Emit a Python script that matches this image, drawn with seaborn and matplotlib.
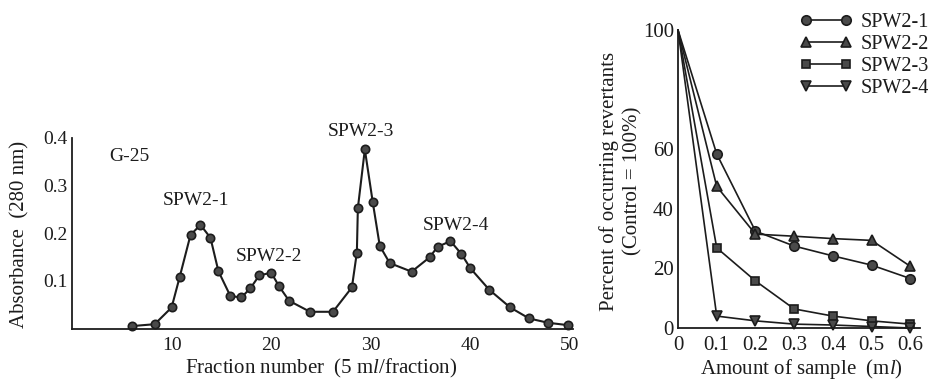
import numpy as np
import pandas as pd
import matplotlib
matplotlib.use("Agg")
import matplotlib.pyplot as plt
import seaborn as sns
from matplotlib.lines import Line2D
from matplotlib.legend_handler import HandlerLine2D

# ---------------- data ----------------
fractions = [6, 8.3, 10, 10.8, 11.9, 12.9, 13.9, 14.7, 15.9, 17, 17.9, 18.8, 20, 20.8,
             21.8, 23.9, 26.2, 28.1, 28.6, 28.7, 29.4, 30.2, 30.9, 31.9, 34.1, 35.9,
             36.7, 38, 39.1, 40, 41.9, 44, 45.9, 47.8, 49.8]
absorbance = [0.005, 0.009, 0.044, 0.107, 0.196, 0.217, 0.190, 0.120, 0.068, 0.065,
              0.084, 0.111, 0.117, 0.088, 0.058, 0.035, 0.035, 0.086, 0.159, 0.252,
              0.375, 0.264, 0.173, 0.137, 0.119, 0.149, 0.171, 0.183, 0.156, 0.126,
              0.081, 0.044, 0.021, 0.012, 0.007]
left_xticks = [10, 20, 30, 40, 50]
left_yticks = [0.1, 0.2, 0.3, 0.4]

amount = [0, 0.1, 0.2, 0.3, 0.4, 0.5, 0.6]
spw2_1 = [100, 58.4, 32.5, 27.5, 24.2, 21.1, 16.6]
spw2_2 = [100, 47.5, 31.5, 30.8, 30.0, 29.4, 20.7]
spw2_3 = [100, 26.9, 15.8, 6.4, 4.0, 2.4, 1.3]
spw2_4 = [100, 4.0, 2.4, 1.3, 1.0, 0.5, 0.0]
series_names = ["SPW2-1", "SPW2-2", "SPW2-3", "SPW2-4"]
right_xticks = [0, 0.1, 0.2, 0.3, 0.4, 0.5, 0.6]
right_xticklabels = ["0", "0.1", "0.2", "0.3", "0.4", "0.5", "0.6"]
right_yticks = [0, 20, 40, 60, 80, 100]
right_yticklabels = ["0", "20", "40", "60", "", "100"]

peak_labels = ["G-25", "SPW2-1", "SPW2-2", "SPW2-3", "SPW2-4"]
peak_label_x = [5.8, 12.45, 19.8, 29.0, 38.5]
peak_label_y = [0.360, 0.269, 0.151, 0.413, 0.216]

# ---------------- style ----------------
sns.set_style("white")
plt.rcParams["font.family"] = ["Liberation Serif", "DejaVu Serif"]
plt.rcParams["mathtext.fontset"] = "custom"
plt.rcParams["mathtext.rm"] = "Liberation Serif"
plt.rcParams["mathtext.it"] = "Liberation Serif:italic"
INK = "#1c1c1c"
FACE = "#4a4a4a"

W, H = 933, 380
fig = plt.figure(figsize=(W / 100, H / 100), dpi=100)
fig.patch.set_facecolor("white")

# left axes
axL = fig.add_axes([72 / W, 1 - 328.5 / H, 501 / W, 191 / H])
dfL = pd.DataFrame({"fraction": fractions, "absorbance": absorbance})
sns.lineplot(data=dfL, x="fraction", y="absorbance", ax=axL, color=INK, lw=1.5,
             marker="o", markersize=6, markerfacecolor=FACE, markeredgecolor=INK,
             markeredgewidth=1.2, estimator=None, sort=False, clip_on=False)
axL.set_xlim(0, 50.3)
axL.set_ylim(0, 0.4)
axL.set_xticks(left_xticks)
axL.set_xticklabels([str(t) for t in left_xticks])
axL.set_yticks(left_yticks)
axL.set_yticklabels([f"{t:.1f}" for t in left_yticks])
for t, x, y in zip(peak_labels, peak_label_x, peak_label_y):
    axL.text(x, y, t, ha="center", va="center", fontsize=14, color=INK, clip_on=False)
axL.set_xlabel(r"Fraction number  (5 m$\mathit{l}$/fraction)", fontsize=15, color=INK)
axL.set_ylabel("Absorbance  (280 nm)", fontsize=15, color=INK)
axL.xaxis.label.set_va("center")
axL.yaxis.label.set_va("center")
axL.xaxis.set_label_coords(0.497, -0.207)
axL.yaxis.set_label_coords(-0.104, 0.495)

# right axes
axR = fig.add_axes([678 / W, 1 - 328 / H, 242 / W, 298 / H])
markers = ["o", "^", "s", "v"]
msizes = [6.8, 6.8, 6.3, 6.8]
all_series = [spw2_1, spw2_2, spw2_3, spw2_4]
for name, vals, m, ms in zip(series_names, all_series, markers, msizes):
    sns.lineplot(x=amount, y=vals, ax=axR, color=INK, lw=1.2, marker=m, markersize=ms,
                 markerfacecolor=FACE, markeredgecolor=INK, markeredgewidth=1.2,
                 markevery=slice(1, None), estimator=None, sort=False, clip_on=False)
axR.set_xlim(0, 0.625)
axR.set_ylim(0, 100)
axR.set_xticks(right_xticks)
axR.set_xticklabels(right_xticklabels)
axR.set_yticks(right_yticks)
axR.set_yticklabels(right_yticklabels)
axR.set_yticks([10, 30, 50, 70, 90], minor=True)
axR.set_xlabel(r"Amount of sample  (m$\mathit{l}$)", fontsize=15, color=INK)
axR.set_ylabel("Percent of occurring revertants\n(Control = 100%)", fontsize=15,
               color=INK, linespacing=1.3)
axR.xaxis.label.set_va("center")
axR.yaxis.label.set_va("center")
axR.xaxis.set_label_coords(0.51, -0.138)
axR.yaxis.set_label_coords(-0.238, 0.493)

for ax in (axL, axR):
    sns.despine(ax=ax)
    for s in ("left", "bottom"):
        ax.spines[s].set_color(INK)
        ax.spines[s].set_linewidth(1.3)
    ax.set_facecolor("white")
    ax.tick_params(axis="both", which="major", direction="in", length=5, width=1.1,
                   color=INK, labelcolor=INK, labelsize=14)
    ax.tick_params(axis="both", which="minor", direction="in", length=3, width=1.0,
                   color=INK)
    ax.tick_params(axis="y", pad=3)
    ax.tick_params(axis="x", pad=6)
axR.tick_params(axis="both", which="major", labelsize=15)

# legend
handles = [Line2D([0], [0], color=INK, lw=1.2, marker=m, markersize=ms,
                  markerfacecolor=FACE, markeredgecolor=INK, markeredgewidth=1.2)
           for m, ms in zip(markers, msizes)]
fig.legend(handles, series_names, loc="upper left", bbox_to_anchor=(806 / W, 1 - 13 / H),
           frameon=False, borderpad=0, borderaxespad=0, numpoints=2, fontsize=14.5,
           handlelength=2.0, handletextpad=0.7, labelspacing=0.15,
           handler_map={Line2D: HandlerLine2D(marker_pad=0)},
           labelcolor=INK)

fig.savefig("out.png", dpi=100, facecolor="white")
